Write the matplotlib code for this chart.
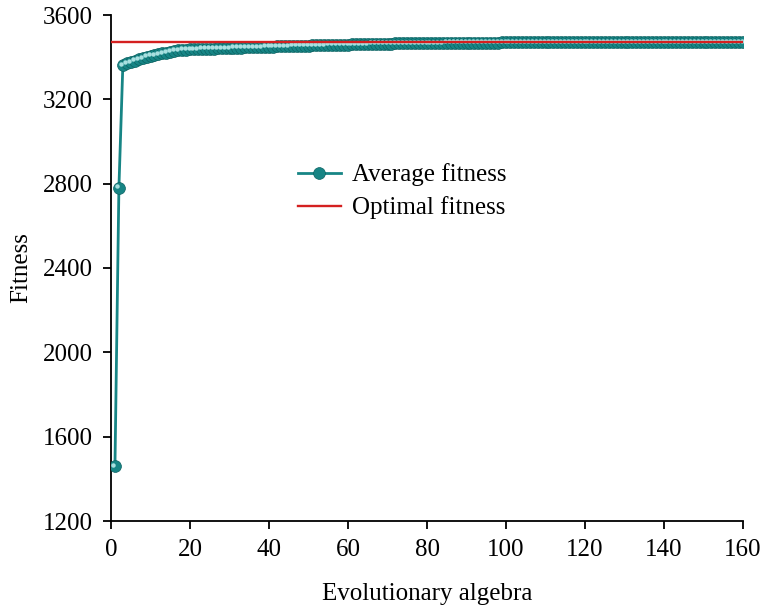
import matplotlib
matplotlib.use("Agg")
import matplotlib.pyplot as plt
from matplotlib.transforms import offset_copy

generations = list(range(1, 161))
average_fitness = [
    1460, 2780, 3362, 3370, 3377, 3384, 3390, 3396, 3401, 3406,
    3410, 3414, 3418, 3422, 3426, 3430, 3433, 3435, 3436, 3437,
    3438, 3438, 3439, 3440, 3440, 3441, 3442, 3442, 3443, 3443,
    3444, 3445, 3445, 3446, 3446, 3447, 3448, 3448, 3449, 3449,
    3450, 3451, 3451, 3452, 3452, 3453, 3454, 3454, 3455, 3455,
    3456, 3456, 3457, 3457, 3458, 3458, 3459, 3459, 3460, 3460,
    3461, 3461, 3462, 3462, 3462, 3463, 3463, 3463, 3464, 3464,
    3464, 3465, 3465, 3465, 3465, 3466, 3466, 3466, 3466, 3467,
    3467, 3467, 3467, 3467, 3468, 3468, 3468, 3468, 3468, 3468,
    3469, 3469, 3469, 3469, 3469, 3469, 3469, 3469, 3470, 3470,
    3470, 3470, 3470, 3470, 3470, 3470, 3470, 3470, 3470, 3470,
    3470, 3470, 3470, 3470, 3470, 3470, 3470, 3470, 3470, 3470,
    3471, 3471, 3471, 3471, 3471, 3471, 3471, 3471, 3471, 3471,
    3471, 3471, 3471, 3471, 3471, 3471, 3471, 3471, 3471, 3471,
    3471, 3471, 3471, 3471, 3471, 3471, 3471, 3471, 3471, 3471,
    3471, 3471, 3471, 3471, 3471, 3471, 3471, 3471, 3471, 3471,
]
optimal_x = [0, 160]
optimal_fitness = [3470, 3470]

x_ticks = [0, 20, 40, 60, 80, 100, 120, 140, 160]
y_ticks = [1200, 1600, 2000, 2400, 2800, 3200, 3600]

plt.rcParams['font.family'] = ['Liberation Serif', 'DejaVu Serif']
plt.rcParams['font.size'] = 18

fig = plt.figure(figsize=(7.61, 6.09), dpi=100)
ax = fig.add_axes([111/761, 1 - 521/609, (743 - 111)/761, (521 - 15)/609])

teal = '#178585'
ax.plot(generations, average_fitness, color=teal, linewidth=2.0,
        marker='o', markersize=8.5, markerfacecolor=teal,
        markeredgecolor='#0c6262', markeredgewidth=0.5,
        label='Average fitness', zorder=3)
# specular highlight for a spherical look
hl = offset_copy(ax.transData, fig=fig, x=-1.5, y=1.5, units='dots')
ax.plot(generations, average_fitness, linestyle='none', marker='o',
        markersize=3.2, markerfacecolor='#a8e0e0', markeredgewidth=0,
        transform=hl, zorder=3.5)
ax.plot(optimal_x, optimal_fitness, color='#d42020', linewidth=1.7,
        label='Optimal fitness', zorder=4)

ax.set_xlim(0, 160)
ax.set_ylim(1200, 3600)
ax.set_xticks(x_ticks)
ax.set_yticks(y_ticks)
for s in ['top', 'right']:
    ax.spines[s].set_visible(False)
for s in ['left', 'bottom']:
    ax.spines[s].set_linewidth(1.3)
ax.tick_params(direction='out', length=6, width=1.3, labelsize=18, pad=7)

ax.set_xlabel('Evolutionary algebra', fontsize=18, labelpad=16)
ax.set_ylabel('Fitness', fontsize=18, labelpad=8)

leg = ax.legend(loc='upper left', bbox_to_anchor=(280/761, 1 - 146/609),
                bbox_transform=fig.transFigure, frameon=False,
                fontsize=18, handlelength=1.75, handletextpad=0.45,
                labelspacing=0.4, borderpad=0.2)

fig.savefig('out.png', dpi=100)
